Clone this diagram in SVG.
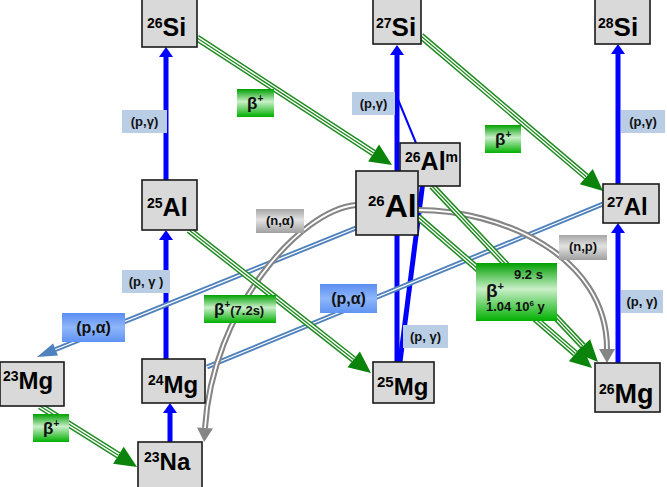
<svg xmlns="http://www.w3.org/2000/svg" width="667" height="487" viewBox="0 0 667 487">
<style>
.box{fill:#d9d9d9;stroke:#1a1a1a;stroke-width:1.6}
.nt{font-family:"Liberation Sans",Arial,sans-serif;font-weight:bold;fill:#000}
.lt{font-family:"Liberation Sans",Arial,sans-serif;font-weight:bold;fill:#111}
.pg{fill:#b9cde5}
.gA{fill:none;stroke:#1f8a1f;stroke-width:7}
.gB{fill:none;stroke:#fff;stroke-width:4}
.gC{fill:none;stroke:#1f8a1f;stroke-width:1.3}
.bl{fill:none;stroke:#0000ff;stroke-width:5}
.pA{fill:none;stroke:#4f81bd;stroke-width:5}
.pB{fill:none;stroke:#fff;stroke-width:1.3}
.nA{fill:none;stroke:#858585;stroke-width:6}
.nB{fill:none;stroke:#fff;stroke-width:1.8}
</style>
<defs>
<marker id="mg" markerUnits="userSpaceOnUse" markerWidth="22" markerHeight="20" refX="0" refY="10" orient="auto" overflow="visible"><path d="M0,0 L22,10 L0,20 z" fill="#0b840b"/></marker>
<marker id="mb" markerUnits="userSpaceOnUse" markerWidth="10" markerHeight="14" refX="0" refY="7" orient="auto" overflow="visible"><path d="M0,0 L10,7 L0,14 z" fill="#0000ff"/></marker>
<marker id="mp" markerUnits="userSpaceOnUse" markerWidth="20" markerHeight="13" refX="0" refY="6.5" orient="auto" overflow="visible"><path d="M0,0 L20,6.5 L0,13 z" fill="#4f81bd"/></marker>
<marker id="mn" markerUnits="userSpaceOnUse" markerWidth="14" markerHeight="16" refX="0" refY="8" orient="auto" overflow="visible"><path d="M0,0 L14,8 L0,16 z" fill="#858585"/></marker>
<linearGradient id="gg" x1="0" y1="0" x2="0" y2="1"><stop offset="0" stop-color="#00a000"/><stop offset="0.45" stop-color="#c9efc9"/><stop offset="1" stop-color="#00b000"/></linearGradient>
<linearGradient id="gb" x1="0" y1="0" x2="0" y2="1"><stop offset="0" stop-color="#5b8ef2"/><stop offset="0.5" stop-color="#8fb6fa"/><stop offset="1" stop-color="#5f93f2"/></linearGradient>
<linearGradient id="gy" x1="0" y1="0" x2="0" y2="1"><stop offset="0" stop-color="#a6a6a6"/><stop offset="0.45" stop-color="#e2e2e2"/><stop offset="1" stop-color="#a0a0a0"/></linearGradient>
</defs>

<g id="connectors">
<!-- (p,gamma) blue -->
<path class="bl" d="M166,180 V57" marker-end="url(#mb)"/>
<path class="bl" d="M166,359 V240" marker-end="url(#mb)"/>
<path class="bl" d="M170,442 V413" marker-end="url(#mb)"/>
<path class="bl" d="M397,362 V55" marker-end="url(#mb)"/>
<path class="bl" d="M400,362 L422.5,185" marker-end="url(#mb)"/>
<path fill="none" stroke="#0000ff" stroke-width="2" d="M416,143 L397,97"/>
<path class="bl" d="M618,184 V54" marker-end="url(#mb)"/>
<path class="bl" d="M618,363 V233" marker-end="url(#mb)"/>
<!-- (p,alpha) -->
<path class="pA" d="M356,228 L55.5,349.5" marker-end="url(#mp)"/>
<path class="pB" d="M356,228 L55.5,349.5"/>
<path class="pA" d="M603,204 L207,367"/>
<path class="pB" d="M603,204 L207,367"/>
<!-- (n,alpha) and (n,p) -->
<path class="nA" d="M356,205 C300,210 212,310 205,428" marker-end="url(#mn)"/>
<path class="nB" d="M356,205 C300,210 212,310 205,428"/>
<path class="nA" d="M418,210 C500,210 607,255 607,349" marker-end="url(#mn)"/>
<path class="nB" d="M418,210 C500,210 607,255 607,349"/>
<!-- beta+ green -->
<path class="gA" d="M197,38 L373.6,153" marker-end="url(#mg)"/>
<path class="gB" d="M197,38 L373.6,153"/>
<path class="gC" d="M197,38 L373.6,153"/>
<path class="gA" d="M421,36 L586.3,176.7" marker-end="url(#mg)"/>
<path class="gB" d="M421,36 L586.3,176.7"/>
<path class="gC" d="M421,36 L586.3,176.7"/>
<path class="gA" d="M189,230 L353.7,359.4" marker-end="url(#mg)"/>
<path class="gB" d="M189,230 L353.7,359.4"/>
<path class="gC" d="M189,230 L353.7,359.4"/>
<path class="gA" d="M40,406 L118.4,455.3" marker-end="url(#mg)"/>
<path class="gB" d="M40,406 L118.4,455.3"/>
<path class="gC" d="M40,406 L118.4,455.3"/>
<path class="gA" d="M432,186 L582.9,346" marker-end="url(#mg)"/>
<path class="gB" d="M432,186 L582.9,346"/>
<path class="gC" d="M432,186 L582.9,346"/>
<path class="gA" d="M418,217 L575.4,353.6" marker-end="url(#mg)"/>
<path class="gB" d="M418,217 L575.4,353.6"/>
<path class="gC" d="M418,217 L575.4,353.6"/>
</g>

<g id="n26Si"><rect class="box" x="142" y="-1" width="55" height="48"/><text class="nt" x="147" y="36"><tspan font-size="14" dy="-8">26</tspan><tspan font-size="25" dy="8">Si</tspan></text></g>
<g id="n27Si"><rect class="box" x="373" y="-1" width="48" height="45"/><text class="nt" x="376" y="36"><tspan font-size="14" dy="-8">27</tspan><tspan font-size="26" dy="8">Si</tspan></text></g>
<g id="n28Si"><rect class="box" x="595" y="-1" width="55" height="45"/><text class="nt" x="598" y="36"><tspan font-size="14" dy="-8">28</tspan><tspan font-size="26" dy="8">Si</tspan></text></g>
<g id="n25Al"><rect class="box" x="142" y="180" width="55" height="50"/><text class="nt" x="147" y="216"><tspan font-size="14" dy="-8">25</tspan><tspan font-size="25" dy="8">Al</tspan></text></g>
<g id="n26Alm"><rect class="box" x="400" y="143" width="60" height="43"/><text class="nt" x="405" y="170"><tspan font-size="14" dy="-8">26</tspan><tspan font-size="25" dy="8">Al</tspan><tspan font-size="14" dy="-8">m</tspan></text></g>
<g id="n26Al"><rect class="box" x="356" y="171" width="62" height="64"/><text class="nt" x="368" y="217"><tspan font-size="15" dy="-11">26</tspan><tspan font-size="32" dy="11">Al</tspan></text></g>
<g id="n27Al"><rect class="box" x="603" y="184" width="56" height="39"/><text class="nt" x="607" y="215"><tspan font-size="15" dy="-8">27</tspan><tspan font-size="24" dy="8">Al</tspan></text></g>
<g id="n23Mg"><rect class="box" x="0" y="362" width="64" height="44"/><text class="nt" x="3" y="389"><tspan font-size="14" dy="-8">23</tspan><tspan font-size="24" dy="8">Mg</tspan></text></g>
<g id="n24Mg"><rect class="box" x="142" y="359" width="63" height="44"/><text class="nt" x="148" y="393"><tspan font-size="14" dy="-8">24</tspan><tspan font-size="24" dy="8">Mg</tspan></text></g>
<g id="n23Na"><rect class="box" x="138" y="442" width="64" height="46"/><text class="nt" x="144" y="470"><tspan font-size="14" dy="-8">23</tspan><tspan font-size="24" dy="8">Na</tspan></text></g>
<g id="n25Mg"><rect class="box" x="373" y="362" width="61" height="41"/><text class="nt" x="377" y="395"><tspan font-size="15" dy="-8">25</tspan><tspan font-size="24" dy="8">Mg</tspan></text></g>
<g id="n26Mg"><rect class="box" x="595" y="363" width="65" height="49"/><text class="nt" x="599" y="403"><tspan font-size="14" dy="-9">26</tspan><tspan font-size="27" dy="9">Mg</tspan></text></g>

<g id="labels">
<rect class="pg" x="122" y="110" width="45" height="23"/><text class="lt" font-size="13" x="144.5" y="126" text-anchor="middle">(p,γ)</text>
<rect class="pg" x="122" y="270" width="48" height="23"/><text class="lt" font-size="13" x="146" y="286" text-anchor="middle">(p, γ )</text>
<rect class="pg" x="352" y="92" width="43" height="23"/><text class="lt" font-size="13" x="373.5" y="108" text-anchor="middle">(p,γ)</text>
<rect class="pg" x="621" y="110" width="44" height="23"/><text class="lt" font-size="13" x="643" y="126" text-anchor="middle">(p,γ)</text>
<rect class="pg" x="403" y="325" width="45" height="23"/><text class="lt" font-size="13" x="425.5" y="341" text-anchor="middle">(p, γ)</text>
<rect class="pg" x="621" y="290" width="42" height="23"/><text class="lt" font-size="13" x="642" y="306" text-anchor="middle">(p, γ)</text>

<rect fill="url(#gg)" x="237" y="89" width="37" height="28"/><text class="lt" font-size="17" x="247" y="109">β<tspan font-size="10" dy="-7">+</tspan></text>
<rect fill="url(#gg)" x="485" y="125" width="36" height="28"/><text class="lt" font-size="17" x="495" y="145">β<tspan font-size="10" dy="-7">+</tspan></text>
<rect fill="url(#gg)" x="33" y="414" width="36" height="28"/><text class="lt" font-size="17" x="43" y="434">β<tspan font-size="10" dy="-7">+</tspan></text>
<rect fill="url(#gg)" x="204" y="295" width="72" height="28"/><text class="lt" font-size="17" x="214" y="315">β<tspan font-size="10" dy="-7">+</tspan><tspan font-size="13" dy="7">(7.2s)</tspan></text>
<rect fill="url(#gg)" x="476" y="263" width="81" height="58"/>
<text class="lt" font-size="13" x="514" y="279">9.2 s</text>
<text class="lt" font-size="19" x="486" y="297">β<tspan font-size="11" dy="-7">+</tspan></text>
<text class="lt" font-size="13" x="486" y="311">1.04 10<tspan font-size="8" dy="-5">6</tspan><tspan dy="5"> y</tspan></text>

<rect fill="url(#gb)" x="62" y="313" width="63" height="29"/><text class="lt" font-size="16" x="93.5" y="333" text-anchor="middle">(p,α)</text>
<rect fill="url(#gb)" x="320" y="284" width="57" height="29"/><text class="lt" font-size="16" x="348.5" y="304" text-anchor="middle">(p,α)</text>

<rect fill="url(#gy)" x="256" y="209" width="48" height="24"/><text class="lt" font-size="13" x="280" y="225" text-anchor="middle">(n,α)</text>
<rect fill="url(#gy)" x="559" y="235" width="48" height="25"/><text class="lt" font-size="13" x="583" y="251" text-anchor="middle">(n,p)</text>
</g>
</svg>
